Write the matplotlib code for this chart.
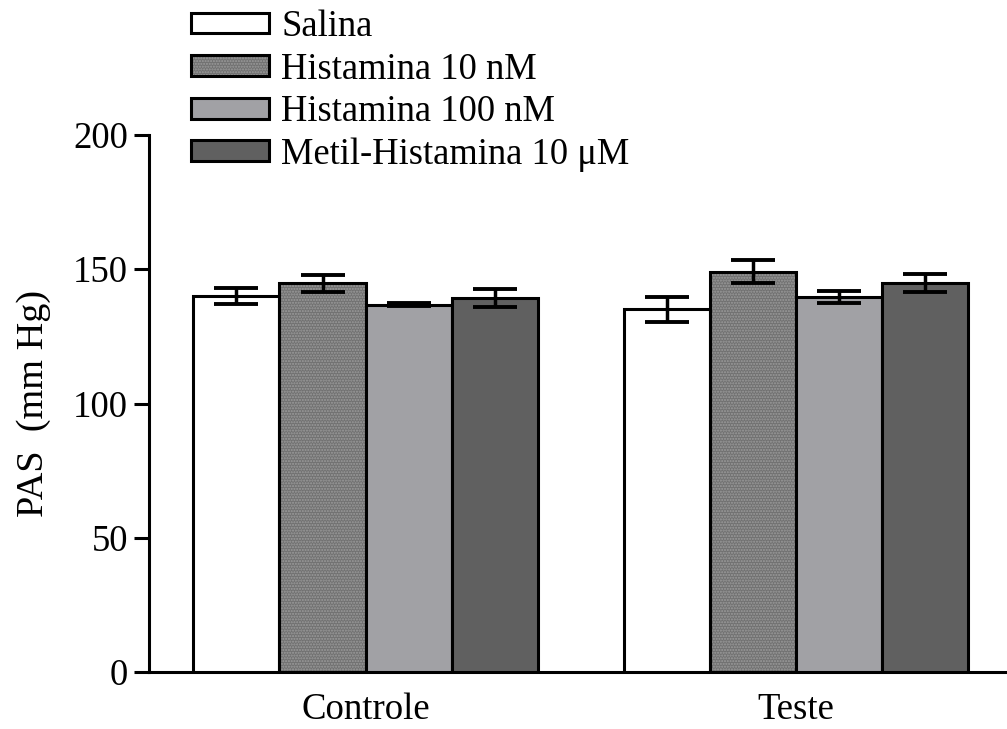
import matplotlib.pyplot as plt
import numpy as np
from matplotlib.patches import Patch

plt.rcParams['font.family'] = ['Liberation Serif', 'DejaVu Serif']

groups = ['Controle', 'Teste']
series = ['Salina', 'Histamina 10 nM', 'Histamina 100 nM', 'Metil-Histamina 10 \u03bcM']
means = [
    [140.0, 135.0],   # Salina
    [144.7, 149.0],   # Histamina 10 nM
    [136.8, 139.6],   # Histamina 100 nM
    [139.3, 144.9],   # Metil-Histamina 10 uM
]
sems = [
    [3.1, 4.6],
    [3.2, 4.3],
    [0.5, 2.2],
    [3.5, 3.3],
]

colors = ['white', '#717171', '#a1a1a5', '#606060']
dot_color = '#9c9c9c'

fig = plt.figure(figsize=(10.07, 7.29), dpi=100)
ax = fig.add_axes([0.148, 0.078, 0.852, 0.737])

x = np.arange(len(groups))
width = 0.2
for i, name in enumerate(series):
    pos = x + (i - 1.5) * width
    if i == 1:
        # stippled fill underneath, black outline on top
        ax.bar(pos, means[i], width, color=colors[i], hatch='......',
               edgecolor=dot_color, linewidth=0, zorder=2)
        ax.bar(pos, means[i], width, facecolor='none', edgecolor='black',
               linewidth=2.2, zorder=3)
    else:
        ax.bar(pos, means[i], width, color=colors[i], edgecolor='black',
               linewidth=2.2, zorder=3)
    ax.errorbar(pos, means[i], yerr=sems[i], fmt='none', ecolor='black',
                elinewidth=2.5, capsize=16, capthick=2.8, zorder=4)

ax.set_xlim(-0.503, 1.49)
ax.set_ylim(0, 200)
ax.set_yticks([0, 50, 100, 150, 200])
ax.set_xticks(x)
ax.set_xticklabels(groups)
ax.tick_params(axis='x', length=0, labelsize=26.5, pad=15)
ax.tick_params(axis='y', length=11, width=2.2, labelsize=26.5, pad=4)
ax.spines['top'].set_visible(False)
ax.spines['right'].set_visible(False)
ax.spines['left'].set_linewidth(2.2)
ax.spines['bottom'].set_linewidth(2.2)
ax.set_ylabel('PAS  (mm Hg)', fontsize=27.5, labelpad=16)

# legend handles; the stippled one is an overlay of fill + outline
outline = dict(edgecolor='black', linewidth=2.2)
proxies = [
    Patch(facecolor=colors[0], **outline),
    (Patch(facecolor=colors[1], edgecolor=dot_color, hatch='......', linewidth=0),
     Patch(facecolor='none', **outline)),
    Patch(facecolor=colors[2], **outline),
    Patch(facecolor=colors[3], **outline),
]
fig.legend(proxies, series, loc='upper left', bbox_to_anchor=(0.175, 1.007),
           frameon=False, fontsize=26.3, handlelength=2.15, handleheight=0.5,
           handletextpad=0.33, labelspacing=0.22, borderaxespad=0)

fig.savefig('out.png', dpi=100)
